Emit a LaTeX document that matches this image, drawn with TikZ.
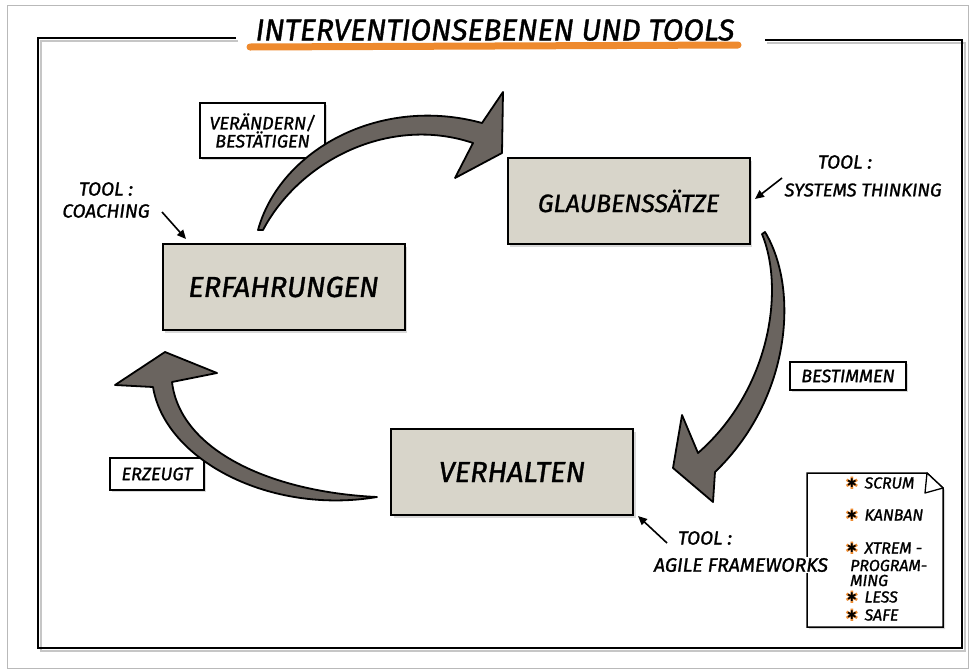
\documentclass[tikz,border=0pt]{standalone}
\usepackage{fontspec}
\setmainfont{Fira Sans}[FakeBold=1.2]
\newfontfamily\djv{DejaVu Sans}
\usetikzlibrary{shadows,arrows.meta}
\definecolor{boxfill}{HTML}{D8D5CA}
\definecolor{arrfill}{HTML}{6A645F}
\definecolor{hlorange}{HTML}{EE8A2E}
\begin{document}
\begin{tikzpicture}[x=1pt,y=-1pt,
  hand/.style={font=\fontsize{#1}{#1}\selectfont\itshape},
  mainbox/.style={draw=black, line width=2pt, fill=boxfill,
    drop shadow={shadow xshift=2.5pt, shadow yshift=-2.5pt, opacity=0.3},
    minimum width=242pt, minimum height=86pt, inner sep=0pt},
  labbox/.style={draw=black, line width=1.5pt, fill=white,
    drop shadow={shadow xshift=2pt, shadow yshift=-2pt, opacity=0.3},
    inner sep=0pt, align=center},
  bigarrow/.style={fill=arrfill, draw=black, line width=1.8pt, line join=round},
  tarrow/.style={line width=1.6pt, -{Triangle[length=9pt,width=8pt]}},
  sternO/.style={font=\djv\fontsize{17}{17}\selectfont, text=hlorange, inner sep=0pt},
  sternB/.style={font=\djv\fontsize{12}{12}\selectfont, text=black, inner sep=0pt}
]
\useasboundingbox (0,0) rectangle (971,670);
\fill[white] (0,0) rectangle (971,670);
% outer border
\draw[gray!55, line width=1pt] (7,5) rectangle (968,668);
% frame
\draw[gray!45, line width=2.5pt] (238,41) -- (41,41) -- (41,651) -- (965,651) -- (965,43) -- (767,43);
\draw[black, line width=2.2pt] (236,38) -- (38,38) -- (38,648) -- (962,648) -- (962,40) -- (765,40);
% title
\draw[hlorange, line width=7pt, line cap=round] (250,47) -- (738,45);
\node[hand=30, inner sep=0pt] (title) at (495,30) {INTERVENTIONSEBENEN UND TOOLS};

% main boxes
\node[mainbox, hand=29] (erf) at (283.5,287) {ERFAHRUNGEN};
\node[mainbox, hand=25] (gla) at (628.5,201) {GLAUBENSSÄTZE};
\node[mainbox, hand=29] (ver) at (512,472) {VERHALTEN};

% label boxes
\node[labbox, hand=18, minimum width=125pt, minimum height=55pt] (vb) at (262.5,130.5) {VERÄNDERN/\\BESTÄTIGEN};
\node[labbox, hand=18, minimum width=116pt, minimum height=28pt] (bes) at (848,376) {BESTIMMEN};
\node[labbox, hand=18, minimum width=94pt, minimum height=32pt] (erz) at (157,474) {ERZEUGT};

% big arrows
\draw[bigarrow] (258,230) .. controls (280,150) and (380,95) .. (482,123)
  -- (503,92) -- (502,153) -- (455,178) -- (473,143)
  .. controls (390,115) and (300,160) .. (263,230) -- cycle;
\draw[bigarrow] (765,232) .. controls (800,290) and (790,400) .. (715,472)
  -- (713,502) -- (673,468) -- (682,415) -- (698,453)
  .. controls (770,390) and (785,290) .. (762,234) -- cycle;
\draw[bigarrow] (377,497) .. controls (270,515) and (165,460) .. (153,387)
  -- (115,385) -- (165,352) -- (217,373) -- (172,382)
  .. controls (180,450) and (270,492) .. (377,497) -- cycle;

% tool labels
\node[hand=19, align=center] (coach) at (106,200) {TOOL :\\[3pt]COACHING};
\coordinate (coachA) at (162,212);
\coordinate (coachB) at (186,239);
\draw[tarrow] (coachA) -- (coachB);

\node[hand=19] (sys1) at (845,162) {TOOL :};
\node[hand=18.5] (sys2) at (863,190) {SYSTEMS THINKING};
\coordinate (sysA) at (782,178);
\coordinate (sysB) at (755,199);
\draw[tarrow] (sysA) -- (sysB);

% document
\draw[line width=1.5pt, fill=white, drop shadow={shadow xshift=2pt, shadow yshift=-2pt, opacity=0.3}]
  (807,473) -- (927,473) -- (943,488) -- (943,627) -- (807,627) -- cycle;
\draw[line width=1.3pt, fill=white, line join=round] (927,473) -- (925,493) -- (943,488) -- cycle;

\node[hand=19] (ag1) at (705,538) {TOOL :};
\node[hand=19.5, fill=white, inner sep=1pt] (ag2) at (741,565) {AGILE FRAMEWORKS};
\coordinate (agA) at (667,543);
\coordinate (agB) at (638,516);
\draw[tarrow] (agA) -- (agB);

% items
\foreach \nm/\yy in {s1/483, s2/515, s3/548, s4/597, s5/615}{
  \node[sternO] at (852,\yy) {✱};
  \node[sternB] (\nm) at (852,\yy) {✱};
}
\node[hand=16, anchor=west] (i1) at (861,483) {SCRUM};
\node[hand=16, anchor=west] (i2) at (861,515) {KANBAN};
\node[hand=16, anchor=west] (i3) at (861,548) {XTREM -};
\node[hand=16, anchor=west, align=left, inner sep=0pt] (i4) at (850,573) {PROGRAM-\\[-1pt]MING};
\node[hand=16, anchor=west] (i5) at (861,597) {LESS};
\node[hand=16, anchor=west] (i6) at (861,615) {SAFE};
\end{tikzpicture}
\end{document}
